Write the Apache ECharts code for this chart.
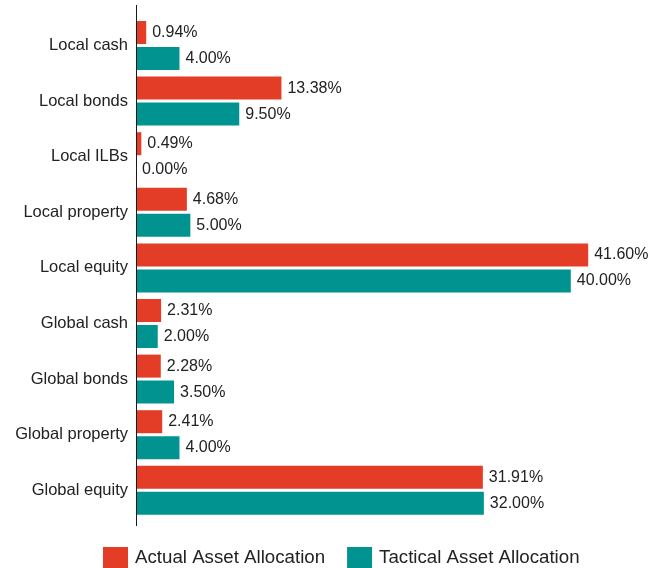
<!DOCTYPE html>
<html>
<head>
<meta charset="utf-8">
<script src="https://cdn.jsdelivr.net/npm/echarts@6/dist/echarts.min.js"></script>
<style>
  html, body { margin: 0; padding: 0; background: #fff; }
  #chart { width: 650px; height: 568px; }
</style>
</head>
<body>
<div id="chart"></div>
<script>
// Asset classes, listed top to bottom
const categories = [
  'Local cash', 'Local bonds', 'Local ILBs', 'Local property', 'Local equity',
  'Global cash', 'Global bonds', 'Global property', 'Global equity'
];
// Allocation percentages per asset class
const actualAllocation = [0.94, 13.38, 0.49, 4.68, 41.60, 2.31, 2.28, 2.41, 31.91];
const tacticalAllocation = [4.00, 9.50, 0.00, 5.00, 40.00, 2.00, 3.50, 4.00, 32.00];
const seriesNames = ['Actual Asset Allocation', 'Tactical Asset Allocation'];

const RED = '#E43D27';
const TEAL = '#009390';
const TEXT = '#222222';
const FONT = '"Liberation Sans", Arial, sans-serif';

const GRID_LEFT = 136;
const GRID_TOP = 17.7;
const BAND = 55.6;
const X_MAX = 45;
const PX_PER_UNIT = 10.87;

const chart = echarts.init(document.getElementById('chart'), null, { renderer: 'canvas' });

const labelCfg = {
  show: true,
  position: 'right',
  distance: 6,
  color: TEXT,
  fontFamily: FONT,
  fontSize: 16,
  formatter: p => p.value.toFixed(2) + '%'
};

chart.setOption({
  animation: false,
  textStyle: { fontFamily: FONT },
  grid: {
    left: GRID_LEFT,
    top: GRID_TOP,
    width: X_MAX * PX_PER_UNIT,
    height: BAND * categories.length,
    containLabel: false
  },
  legend: {
    data: seriesNames,
    left: 103,
    top: 547,
    padding: 0,
    itemWidth: 25,
    itemHeight: 22,
    itemGap: 22,
    icon: 'rect',
    textStyle: { fontSize: 18.7, color: TEXT, fontFamily: FONT, padding: [0, 0, 0, 2] }
  },
  xAxis: {
    type: 'value',
    min: 0,
    max: X_MAX,
    show: false
  },
  yAxis: {
    type: 'category',
    data: categories,
    inverse: true,
    axisLine: { show: false },
    axisTick: { show: false },
    axisLabel: { color: TEXT, fontSize: 16.5, fontFamily: FONT, margin: 8 }
  },
  graphic: [{
    type: 'line',
    shape: { x1: GRID_LEFT + 0.5, y1: 5, x2: GRID_LEFT + 0.5, y2: 526 },
    style: { stroke: '#1a1a1a', lineWidth: 1 },
    z: 10
  }],
  series: [
    {
      name: seriesNames[0],
      type: 'bar',
      data: actualAllocation,
      barWidth: 23,
      barGap: '13%',
      itemStyle: { color: RED },
      label: labelCfg
    },
    {
      name: seriesNames[1],
      type: 'bar',
      data: tacticalAllocation,
      barWidth: 23,
      barGap: '13%',
      itemStyle: { color: TEAL },
      label: labelCfg
    }
  ]
});
</script>
</body>
</html>
